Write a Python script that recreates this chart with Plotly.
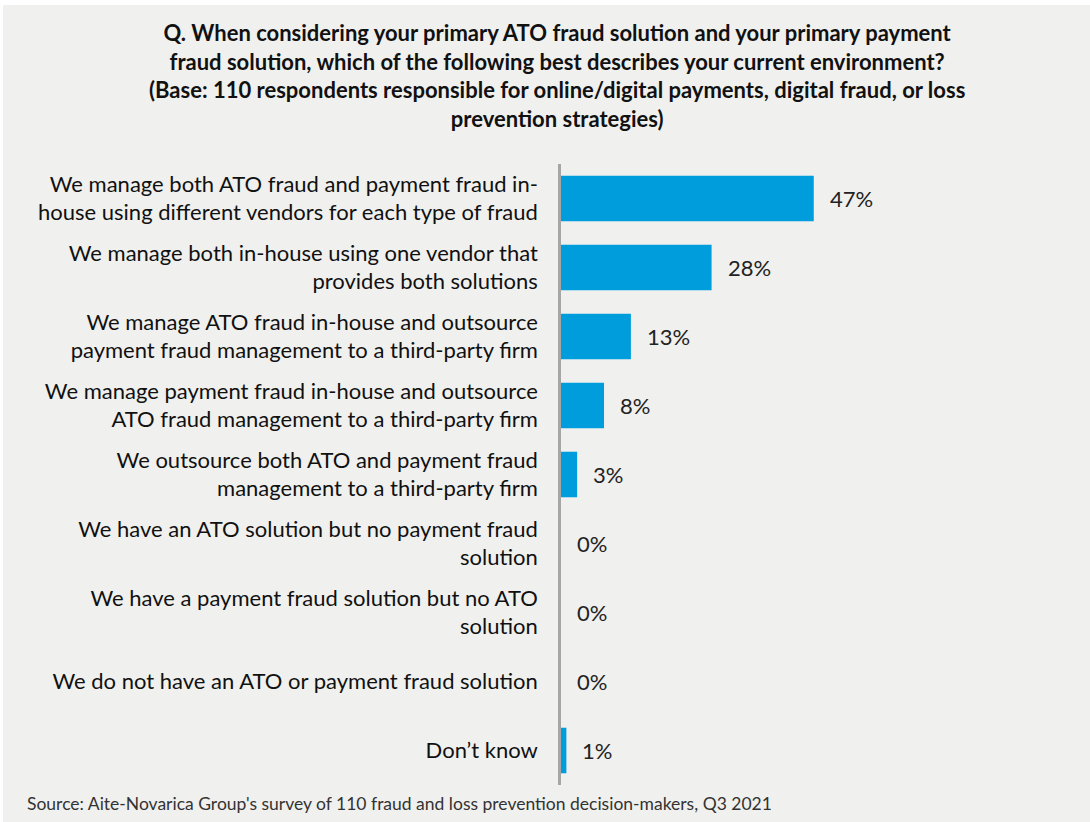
import plotly.graph_objects as go

categories = [
    "We manage both ATO fraud and payment fraud in-<br>house using different vendors for each type of fraud",
    "We manage both in-house using one vendor that<br>provides both solutions",
    "We manage ATO fraud in-house and outsource<br>payment fraud management to a third-party firm",
    "We manage payment fraud in-house and outsource<br>ATO fraud management to a third-party firm",
    "We outsource both ATO and payment fraud<br>management to a third-party firm",
    "We have an ATO solution but no payment fraud<br>solution",
    "We have a payment fraud solution but no ATO<br>solution",
    "We do not have an ATO or payment fraud solution",
    "Don’t know",
]
values = [47, 28, 13, 8, 3, 0, 0, 0, 1]
value_labels = ["47%", "28%", "13%", "8%", "3%", "0%", "0%", "0%", "1%"]

title_text = ("<b>Q. When considering your primary ATO fraud solution and your primary payment<br>"
              "fraud solution, which of the following best describes your current environment?<br>"
              "(Base: 110 respondents responsible for online/digital payments, digital fraud, or loss<br>"
              "prevention strategies)</b>")
source_text = "Source: Aite-Novarica Group's survey of 110 fraud and loss prevention decision-makers, Q3 2021"

BG = "#f0f0ee"
BAR = "#009ddc"

PL, PR, PT, PB = 561, 1045, 164, 785
W, H = PR - PL, PB - PT

fig = go.Figure()
fig.add_trace(go.Bar(
    x=values, y=categories, orientation="h",
    marker=dict(color=BAR, line=dict(width=0)),
    hoverinfo="skip",
))

for v, c, t in zip(values, categories, value_labels):
    fig.add_annotation(x=v, y=c, text=t, showarrow=False, xanchor="left",
                       xshift=14, font=dict(family="Lato, Open Sans, sans-serif", size=22, color="#222222"))

fig.add_annotation(text=title_text, xref="paper", yref="paper",
                   x=(557 - PL) / W, y=(PB - 17) / H,
                   xanchor="center", yanchor="top", showarrow=False, align="center",
                   font=dict(family="Lato, sans-serif", size=22, color="#111111"))

fig.add_annotation(text=source_text, xref="paper", yref="paper",
                   x=(25 - PL) / W, y=(PB - 791) / H,
                   xanchor="left", yanchor="top", showarrow=False, align="left",
                   font=dict(family="Lato, sans-serif", size=17.5, color="#333333"))

fig.add_shape(type="rect", xref="paper", yref="paper",
              x0=(3 - PL) / W, x1=1.2, y0=-0.2, y1=(PB - 5) / H,
              fillcolor=BG, line=dict(width=0), layer="below")

fig.update_layout(
    width=1090, height=822,
    margin=dict(l=PL, r=1090 - PR, t=PT, b=822 - PB, pad=0),
    paper_bgcolor="white", plot_bgcolor=BG,
    bargap=0.34,
    showlegend=False,
    font=dict(family="Lato, sans-serif", color="#111111"),
    xaxis=dict(range=[0, 90], visible=False, fixedrange=True),
    yaxis=dict(autorange="reversed", showline=True, linecolor="#a6a6a6", linewidth=2.5,
               ticks="", ticklabelstandoff=16, showgrid=False, zeroline=False,
               tickfont=dict(family="Lato, sans-serif", size=22, color="#111111")),
)

fig.write_html("out.html")
